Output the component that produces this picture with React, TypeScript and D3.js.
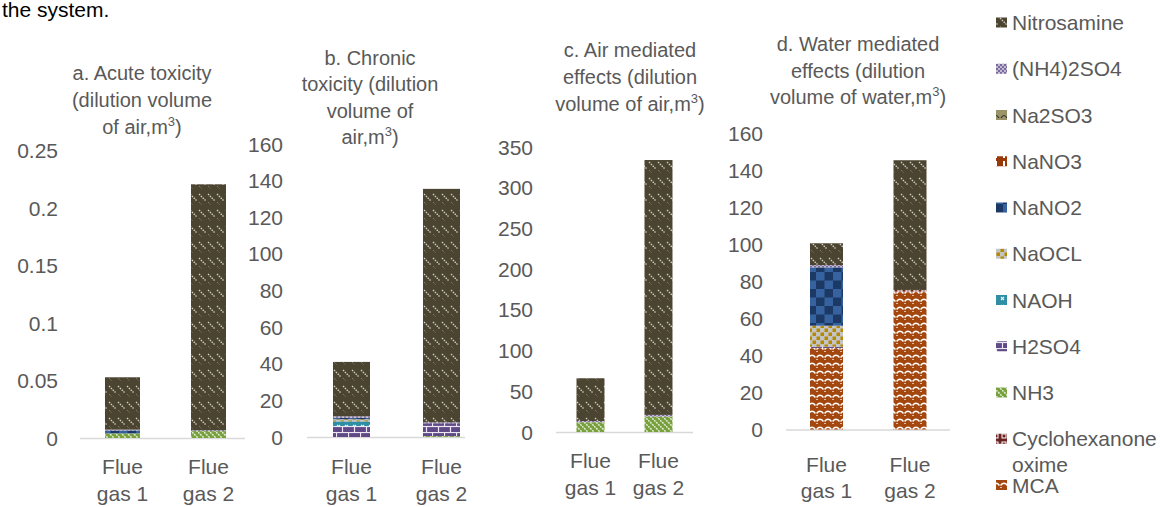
import React from "react";
import * as d3 from "d3";

// ---------- DATA ----------
const series = [
  "MCA",
  "Cyclohexanone oxime",
  "NH3",
  "H2SO4",
  "NAOH",
  "NaOCL",
  "NaNO2",
  "NaNO3",
  "Na2SO3",
  "(NH4)2SO4",
  "Nitrosamine",
];
const categories = ["Flue gas 1", "Flue gas 2"];

// values follow the order of `series`
const acuteFlue1 = [0, 0, 0.004, 0, 0, 0, 0.0025, 0, 0, 0.0008, 0.0455];
const acuteFlue2 = [0, 0, 0.006, 0, 0, 0, 0, 0, 0, 0.0008, 0.2138];
const chronicFlue1 = [0, 0, 0, 6, 2.5, 1.2, 0.8, 0, 0, 0.8, 29.7];
const chronicFlue2 = [0, 0, 0.5, 7, 0, 0, 0, 0, 0, 0.5, 127.5];
const airFlue1 = [0, 0, 12, 0, 0, 0, 0, 0, 0, 1.5, 52.5];
const airFlue2 = [0, 0, 19, 0, 0, 0, 0, 0, 0, 2, 313];
const waterFlue1 = [44, 0, 0, 0.7, 0, 11.3, 31.5, 0, 0, 1.2, 11.8];
const waterFlue2 = [74.5, 0.8, 0, 0, 0, 0, 0, 0, 0, 0, 70];

const acuteTicks = [0, 0.05, 0.1, 0.15, 0.2, 0.25];
const chronicTicks = [0, 20, 40, 60, 80, 100, 120, 140, 160];
const airTicks = [0, 50, 100, 150, 200, 250, 300, 350];
const waterTicks = [0, 20, 40, 60, 80, 100, 120, 140, 160];

const acuteTitle = ["a. Acute toxicity", "(dilution volume", "of air,m^3)"];
const chronicTitle = ["b. Chronic", "toxicity (dilution", "volume of", "air,m^3)"];
const airTitle = ["c. Air mediated", "effects (dilution", "volume of air,m^3)"];
const waterTitle = ["d. Water mediated", "effects (dilution", "volume of water,m^3)"];

// ---------- STYLE ----------
const FONT = "'Liberation Sans', Arial, sans-serif";
const GREY = "#595959";

const patternId: Record<string, string> = {
  MCA: "p-mca",
  "Cyclohexanone oxime": "p-cyc",
  NH3: "p-nh3",
  H2SO4: "p-h2so4",
  NAOH: "p-naoh",
  NaOCL: "p-naocl",
  NaNO2: "p-nano2",
  NaNO3: "p-nano3",
  Na2SO3: "p-na2so3",
  "(NH4)2SO4": "p-nh4",
  Nitrosamine: "p-nitro",
};

function Patterns() {
  return (
    <defs>
      <pattern id="p-nitro" width="9" height="16" patternUnits="userSpaceOnUse">
        <rect width="9" height="16" fill="#4b4430" />
        <line x1="1" y1="2" x2="7.5" y2="8.5" stroke="#d2d0c6" strokeWidth="1.3" strokeDasharray="1.6 1" />
        <line x1="1" y1="10" x2="4" y2="13" stroke="#9a9788" strokeWidth="0.9" strokeDasharray="1 1.3" />
      </pattern>
      <pattern id="p-nh3" width="6" height="6" patternUnits="userSpaceOnUse">
        <rect width="6" height="6" fill="#77a13c" />
        <line x1="0" y1="0" x2="6" y2="6" stroke="#e4edd4" strokeWidth="1.5" strokeDasharray="2 1" />
      </pattern>
      <pattern id="p-h2so4" width="12" height="12" patternUnits="userSpaceOnUse">
        <rect width="12" height="12" fill="#5f4a87" />
        <line x1="0" y1="0.5" x2="12" y2="0.5" stroke="#ebe6f2" strokeWidth="1.2" />
        <line x1="0" y1="6.5" x2="12" y2="6.5" stroke="#ebe6f2" strokeWidth="1.2" />
        <line x1="0.5" y1="0" x2="0.5" y2="6" stroke="#ebe6f2" strokeWidth="1.2" />
        <line x1="6.5" y1="6" x2="6.5" y2="12" stroke="#ebe6f2" strokeWidth="1.2" />
      </pattern>
      <pattern id="p-naoh" width="8" height="8" patternUnits="userSpaceOnUse">
        <rect width="8" height="8" fill="#2e8ea4" />
        <line x1="1" y1="1" x2="4" y2="4" stroke="#f2f8fa" strokeWidth="1.1" />
        <line x1="4" y1="1" x2="1" y2="4" stroke="#f2f8fa" strokeWidth="1.1" />
      </pattern>
      <pattern id="p-naocl" width="8" height="8" patternUnits="userSpaceOnUse">
        <rect width="8" height="8" fill="#c4c4c4" />
        <rect x="0.5" y="0.5" width="3.5" height="3.5" fill="#b58a00" />
        <rect x="4.5" y="4.5" width="3.5" height="3.5" fill="#b58a00" />
      </pattern>
      <pattern id="p-nano2" width="17" height="17" patternUnits="userSpaceOnUse">
        <rect width="17" height="17" fill="#1b3964" />
        <rect x="0" y="0" width="8.5" height="8.5" fill="#3762a0" />
        <rect x="8.5" y="8.5" width="8.5" height="8.5" fill="#3762a0" />
      </pattern>
      <pattern id="p-nano3" width="8" height="8" patternUnits="userSpaceOnUse">
        <rect width="8" height="8" fill="#983806" />
        <rect x="3" y="1" width="2" height="5" fill="#ffffff" />
      </pattern>
      <pattern id="p-na2so3" width="8" height="8" patternUnits="userSpaceOnUse">
        <rect width="8" height="8" fill="#9b9468" />
        <path d="M1,6 Q4,1 7,6" fill="none" stroke="#2f2f2f" strokeWidth="1.2" />
      </pattern>
      <pattern id="p-nh4" width="4" height="4" patternUnits="userSpaceOnUse">
        <rect width="4" height="4" fill="#c2bccf" />
        <rect x="0" y="0" width="2" height="2" fill="#7a68a0" />
        <rect x="2" y="2" width="2" height="2" fill="#7a68a0" />
      </pattern>
      <pattern id="p-cyc" width="8" height="8" patternUnits="userSpaceOnUse">
        <rect width="8" height="8" fill="#6b2222" />
        <rect x="2" y="2" width="4" height="4" fill="none" stroke="#ffffff" strokeWidth="1" />
      </pattern>
      <pattern id="p-mca" width="8" height="8" patternUnits="userSpaceOnUse">
        <rect width="8" height="8" fill="#a3470f" />
        <path d="M0.5,5.5 Q4,1 7.5,5.5" fill="none" stroke="#ffffff" strokeWidth="1.4" />
        <line x1="0" y1="7.5" x2="2" y2="7.5" stroke="#f3d9c8" strokeWidth="0.8" />
      </pattern>
    </defs>
  );
}

function TitleLine({ text, x, y, size }: { text: string; x: number; y: number; size: number }) {
  const parts = text.split("^3");
  if (parts.length === 1) {
    return (
      <text x={x} y={y} textAnchor="middle" fontSize={size} fill={GREY} fontFamily={FONT}>
        {text}
      </text>
    );
  }
  return (
    <text x={x} y={y} textAnchor="middle" fontSize={size} fill={GREY} fontFamily={FONT}>
      <tspan>{parts[0]}</tspan>
      <tspan dy={-8} fontSize={size * 0.65}>3</tspan>
      <tspan dy={8}>{parts[1]}</tspan>
    </text>
  );
}

type PanelCfg = {
  title: string[];
  titleX: number;
  titleY: number[];
  ticks: number[];
  yBottom: number;
  yTop: number;
  centers: [number, number];
  barW: number;
  tickRight: number;
  baseline: [number, number];
  catY: [number, number];
  data: number[][];
};

function Panel({ cfg }: { cfg: PanelCfg }) {
  const step = cfg.centers[1] - cfg.centers[0];
  const pi = 1 - cfg.barW / step;
  const x = d3
    .scaleBand<string>()
    .domain(categories)
    .range([cfg.centers[0] - step / 2, cfg.centers[1] + step / 2])
    .paddingInner(pi)
    .paddingOuter(pi / 2);
  const y = d3
    .scaleLinear()
    .domain([0, cfg.ticks[cfg.ticks.length - 1]])
    .range([cfg.yBottom, cfg.yTop]);

  const rows = categories.map((c, i) => {
    const r: any = { cat: c };
    series.forEach((s, j) => (r[s] = cfg.data[i][j]));
    return r;
  });
  const stacked = d3.stack<any>().keys(series)(rows);

  return (
    <g>
      {cfg.title.map((t, i) => (
        <TitleLine key={i} text={t} x={cfg.titleX} y={cfg.titleY[i]} size={20} />
      ))}
      {cfg.ticks.map((t) => (
        <text
          key={t}
          x={cfg.tickRight}
          y={y(t) + 7.5}
          textAnchor="end"
          fontSize={21}
          fill={GREY}
          fontFamily={FONT}
        >
          {String(t)}
        </text>
      ))}
      <line
        x1={cfg.baseline[0]}
        x2={cfg.baseline[1]}
        y1={cfg.yBottom + 0.5}
        y2={cfg.yBottom + 0.5}
        stroke="#d9d9d9"
        strokeWidth={1.3}
      />
      {stacked.map((layer) => (
        <g key={layer.key} fill={`url(#${patternId[layer.key]})`}>
          {layer.map((d, i) =>
            d[1] - d[0] > 0 ? (
              <rect
                key={i}
                x={x(categories[i])}
                width={x.bandwidth()}
                y={y(d[1])}
                height={y(d[0]) - y(d[1])}
              />
            ) : null
          )}
        </g>
      ))}
      {categories.map((c) => {
        const words = c.split(" ");
        const l1 = words[0];
        const l2 = words.slice(1).join(" ");
        const cx = (x(c) as number) + x.bandwidth() / 2;
        return (
          <g key={c}>
            <text x={cx} y={cfg.catY[0]} textAnchor="middle" fontSize={21} fill={GREY} fontFamily={FONT}>
              {l1}
            </text>
            <text x={cx} y={cfg.catY[1]} textAnchor="middle" fontSize={21} fill={GREY} fontFamily={FONT}>
              {l2}
            </text>
          </g>
        );
      })}
    </g>
  );
}

const panels: PanelCfg[] = [
  {
    title: acuteTitle,
    titleX: 142,
    titleY: [80, 107, 134],
    ticks: acuteTicks,
    yBottom: 438,
    yTop: 150.5,
    centers: [122.5, 208.5],
    barW: 35,
    tickRight: 58,
    baseline: [80, 245],
    catY: [474, 501],
    data: [acuteFlue1, acuteFlue2],
  },
  {
    title: chronicTitle,
    titleX: 370,
    titleY: [65, 91, 118, 144],
    ticks: chronicTicks,
    yBottom: 437,
    yTop: 144,
    centers: [351.5, 441.5],
    barW: 37,
    tickRight: 283,
    baseline: [307, 465],
    catY: [474, 501],
    data: [chronicFlue1, chronicFlue2],
  },
  {
    title: airTitle,
    titleX: 630,
    titleY: [57, 84, 111],
    ticks: airTicks,
    yBottom: 432,
    yTop: 147,
    centers: [590.5, 658.5],
    barW: 28,
    tickRight: 533,
    baseline: [556, 693],
    catY: [468, 495],
    data: [airFlue1, airFlue2],
  },
  {
    title: waterTitle,
    titleX: 858,
    titleY: [51, 78, 104],
    ticks: waterTicks,
    yBottom: 429.5,
    yTop: 133,
    centers: [826.5, 910],
    barW: 33,
    tickRight: 763,
    baseline: [786, 950],
    catY: [472, 498],
    data: [waterFlue1, waterFlue2],
  },
];

const legendOrder = [...series].reverse();

export default function App() {
  return (
    <svg
      width={1160}
      height={507}
      style={{ position: "absolute", left: 0, top: 0, background: "#ffffff" }}
    >
      <Patterns />
      <rect width={1160} height={507} fill="#ffffff" />
      <text x={2} y={17} textAnchor="start" fontSize={21} fill="#000000" fontFamily={FONT}>
        the system.
      </text>
      {panels.map((p, i) => (
        <Panel key={i} cfg={p} />
      ))}
      <g>
        {legendOrder.map((s, i) => {
          const cy = 22.5 + i * 46.25;
          const lines = s === "Cyclohexanone oxime" ? ["Cyclohexanone", "oxime"] : [s];
          return (
            <g key={s}>
              <rect x={996} y={cy - 5} width={11} height={10} fill={`url(#${patternId[s]})`} />
              {lines.map((l, k) => (
                <text
                  key={k}
                  x={1012}
                  y={cy + 7.5 + k * 25.5}
                  fontSize={21}
                  fill={GREY}
                  fontFamily={FONT}
                >
                  {l}
                </text>
              ))}
            </g>
          );
        })}
      </g>
    </svg>
  );
}
